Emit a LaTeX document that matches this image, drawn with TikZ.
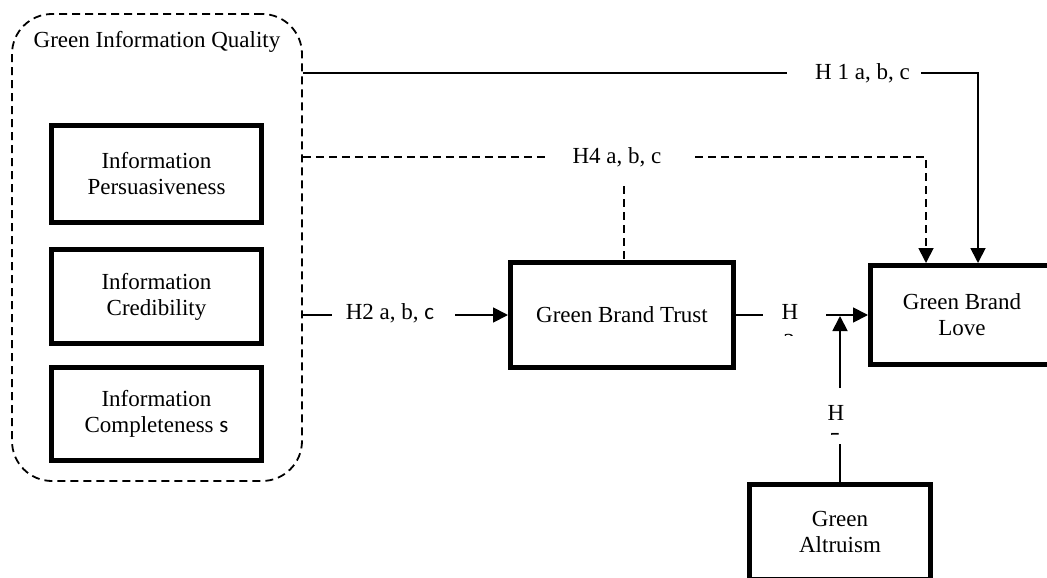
\documentclass[tikz,border=0pt]{standalone}
\usepackage{fontspec}
\setmainfont{Liberation Serif}
\newfontfamily\sfc{Carlito}
\usetikzlibrary{arrows.meta}
\begin{document}
\begin{tikzpicture}[x=1pt,y=-1pt,
  every node/.style={font=\fontsize{23}{26}\selectfont},
  bx/.style={draw,line width=5pt,align=center,inner sep=0pt},
  lab/.style={inner sep=0pt},
  conn/.style={line width=1.8pt},
  dconn/.style={line width=1.8pt,dash pattern=on 8pt off 5pt},
  arr/.style={-{Triangle[length=15pt,width=15pt]}}]
\clip (0,0) rectangle (1047,578);
\fill[white] (0,0) rectangle (1047,578);

% container
\node[dconn,draw,rounded corners=40pt,minimum width=290pt,minimum height=467pt,inner sep=0pt] (giq) at (157,247.5) {};
\node[lab] (title) at (157,42) {Green Information Quality};

% boxes
\node[bx,minimum width=210pt,minimum height=97pt] (pers) at (156.5,174) {Information\\Persuasiveness};
\node[bx,minimum width=210pt,minimum height=94pt] (cred) at (156.5,296.5) {Information\\Credibility};
\node[bx,minimum width=210pt,minimum height=93pt] (comp) at (156.5,414) {Information\\Completeness {\sfc s}};
\node[bx,minimum width=223pt,minimum height=105pt] (gbt) at (622,315) {Green Brand Trust};
\node[bx,minimum width=183pt,minimum height=99pt] (gbl) at (962,315) {Green Brand\\Love};
\node[bx,minimum width=181pt,minimum height=95pt] (alt) at (840,532) {Green\\Altruism};

% H1
\coordinate (h1a) at (787,73);
\coordinate (h1b) at (921,73);
\node[lab,anchor=west] (h1) at (815,73) {H 1 a, b, c};
\draw[conn] (giq.east |- h1a) -- (h1a);
\draw[conn,arr] (h1b) -| ([xshift=110pt]gbl.north west);

% H4
\coordinate (h4a) at (547,157);
\coordinate (h4b) at (695,157);
\node[lab] (h4) at (617,157) {H4 a, b, c};
\draw[dconn] (giq.east |- h4a) -- (h4a);
\draw[dconn,arr] (h4b) -| ([xshift=58pt]gbl.north west);
\coordinate (h4c) at (624,186);
\draw[dconn] (h4c) -- (h4c |- gbt.north);

% H2
\coordinate (h2a) at (332,315);
\coordinate (h2b) at (455,315);
\node[lab] (h2) at (390,313) {H2 a, b, {\sfc c}};
\draw[conn] (giq.east |- gbt.west) -- (h2a);
\draw[conn,arr] (h2b) -- (gbt.west);

% H3
\coordinate (h3a) at (763,315);
\coordinate (h3b) at (826,315);
\node[lab,anchor=base] (h3) at (790,319.6) {H};
\begin{scope}
  \clip (778,332) rectangle (802,335.5);
  \node[lab,anchor=base] (h3d) at (789,349) {3};
\end{scope}
\draw[conn] (gbt.east) -- (h3a);
\draw[conn,arr] (h3b) -- (gbl.west);

% H5
\coordinate (h5a) at (840,444);
\coordinate (h5b) at (840,388);
\coordinate (h5c) at (840,316);
\node[lab,anchor=base] (h5) at (836,420.6) {H};
\begin{scope}
  \clip (824,432) rectangle (848,434.5);
  \node[lab,anchor=base] (h5d) at (835,448.5) {5};
\end{scope}
\draw[conn] (alt.north) -- (h5a);
\draw[conn,arr] (h5b) -- (h5c);
\end{tikzpicture}
\end{document}
